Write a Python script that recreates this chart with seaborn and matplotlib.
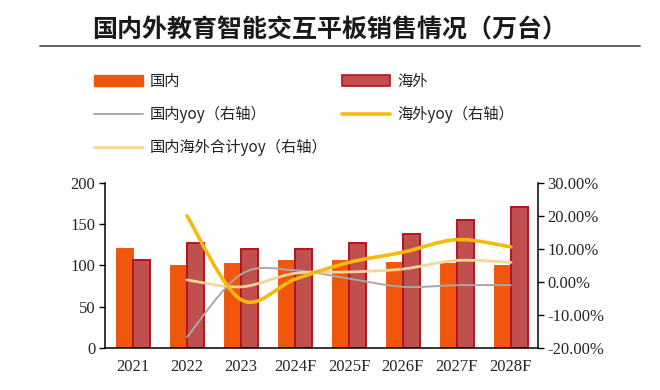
import numpy as np
import pandas as pd
import matplotlib
matplotlib.use("Agg")
import matplotlib.pyplot as plt
from matplotlib.path import Path
from matplotlib.patches import PathPatch, Patch
from matplotlib.lines import Line2D
import seaborn as sns

# ---- data ----
years = ["2021", "2022", "2023", "2024F", "2025F", "2026F", "2027F", "2028F"]
domestic = [121, 100, 103, 106, 107, 104, 103, 101]
overseas = [107, 127, 120, 120, 127, 138, 155, 171]
domestic_yoy = [None, -16.7, 2.3, 3.5, 1.0, -1.5, -1.0, -1.0]
overseas_yoy = [None, 20.0, -5.4, 0.8, 5.9, 9.0, 12.8, 10.6]
total_yoy = [None, 0.6, -1.5, 2.6, 3.0, 3.9, 6.5, 5.9]

title = "国内外教育智能交互平板销售情况（万台）"
lbl_dom, lbl_ovs = "国内", "海外"
lbl_dom_yoy, lbl_ovs_yoy, lbl_tot_yoy = "国内yoy（右轴）", "海外yoy（右轴）", "国内海外合计yoy（右轴）"
left_ticks = [0, 50, 100, 150, 200]
right_ticks = [-20, -10, 0, 10, 20, 30]

# ---- style ----
sns.set_style("white")
plt.rcParams["font.family"] = ["Noto Sans CJK SC", "DejaVu Sans"]

C_DOM = "#F0560C"
C_OVS = "#C0504D"
C_OVS_EDGE = "#B5141C"
C_GRAY = "#A8A8AC"
C_GOLD = "#F7B90C"
C_PALE = "#F7D49A"

fig = plt.figure(figsize=(6.6, 3.9), dpi=100)
ax = fig.add_axes([0.159, 0.108, 0.656, 0.423])

df = pd.DataFrame({
    "year": years * 2,
    "value": domestic + overseas,
    "series": [lbl_dom] * len(years) + [lbl_ovs] * len(years),
})
sns.barplot(data=df, x="year", y="value", hue="series", order=years,
            hue_order=[lbl_dom, lbl_ovs], palette=[C_DOM, C_OVS],
            width=0.62, gap=0, legend=False, ax=ax, saturation=1)
for p in ax.patches:
    fc = p.get_facecolor()
    if abs(fc[0] - matplotlib.colors.to_rgba(C_OVS)[0]) < 0.01:
        p.set_edgecolor(C_OVS_EDGE)
        p.set_linewidth(1.4)
    else:
        p.set_edgecolor("#E34E08")
        p.set_linewidth(0.6)

ax.set_xlim(-0.52, 7.5)
ax.set_ylim(0, 200)
ax.set_yticks(left_ticks)
ax.set_xlabel("")
ax.set_ylabel("")
ax.set_xticks(range(len(years)))
ax.set_xticklabels(years)
ax.set_xticks(np.arange(-0.5, len(years), 1.0), minor=True)
ax.tick_params(axis="x", which="major", length=0, pad=8)
ax.tick_params(axis="x", which="minor", length=4, width=1, direction="out", color="black")
ax.tick_params(axis="y", length=4, width=1, direction="out", color="black", pad=3)
for lab in ax.get_xticklabels() + ax.get_yticklabels():
    lab.set_fontfamily("Liberation Serif")
    lab.set_fontsize(12)
for s in ["top", "right"]:
    ax.spines[s].set_visible(False)
for s in ["left", "bottom"]:
    ax.spines[s].set_color("black")
    ax.spines[s].set_linewidth(1.1)

ax2 = ax.twinx()
ax2.set_ylim(-20, 30)
ax2.set_yticks(right_ticks)
ax2.set_yticklabels([f"{v:.2f}%" for v in right_ticks])
ax2.tick_params(axis="y", length=4, width=1, direction="out", color="black", pad=3)
for lab in ax2.get_yticklabels():
    lab.set_fontfamily("Liberation Serif")
    lab.set_fontsize(12)
for s in ["top", "left", "bottom"]:
    ax2.spines[s].set_visible(False)
ax2.spines["right"].set_color("black")
ax2.spines["right"].set_linewidth(1.1)


def smooth_path(xs, ys):
    pts = np.array([(x, y) for x, y in zip(xs, ys) if y is not None], dtype=float)
    n = len(pts)
    verts = [pts[0]]
    codes = [Path.MOVETO]
    for i in range(n - 1):
        p0 = pts[i - 1] if i > 0 else pts[i]
        p1 = pts[i]
        p2 = pts[i + 1]
        p3 = pts[i + 2] if i + 2 < n else pts[i + 1]
        c1 = p1 + (p2 - p0) / 6.0
        c2 = p2 - (p3 - p1) / 6.0
        verts += [c1, c2, p2]
        codes += [Path.CURVE4] * 3
    return Path(verts, codes)


xs = list(range(len(years)))
for vals, col, lw in [(domestic_yoy, C_GRAY, 1.4), (total_yoy, C_PALE, 2.0), (overseas_yoy, C_GOLD, 2.6)]:
    ax2.add_patch(PathPatch(smooth_path(xs, vals), facecolor="none", edgecolor=col,
                            linewidth=lw, capstyle="round", joinstyle="round"))

# ---- title ----
fig.text(0.5, 0.922, title, ha="center", va="center", fontsize=18, fontweight="bold",
         color="#1a1a1a")
fig.add_artist(Line2D([40 / 660, 640 / 660], [1 - 46 / 390] * 2, color="#555555", linewidth=1.3))

# ---- legend ----
handles = [
    Patch(facecolor=C_DOM, edgecolor=C_DOM),
    Line2D([], [], color=C_GRAY, linewidth=1.4),
    Line2D([], [], color=C_PALE, linewidth=2.0),
    Patch(facecolor=C_OVS, edgecolor=C_OVS_EDGE, linewidth=1.2),
    Line2D([], [], color=C_GOLD, linewidth=2.6),
]
labels = [lbl_dom, lbl_dom_yoy, lbl_tot_yoy, lbl_ovs, lbl_ovs_yoy]
leg = fig.legend(handles, labels, ncol=2, loc="upper left", bbox_to_anchor=(0.122, 0.848),
                 frameon=False, fontsize=11, handlelength=3.2, handleheight=0.7,
                 handletextpad=0.45, labelspacing=1.05, columnspacing=0.9)
for t in leg.get_texts():
    t.set_color("#222222")

fig.savefig("out.png", dpi=100, facecolor="white")
